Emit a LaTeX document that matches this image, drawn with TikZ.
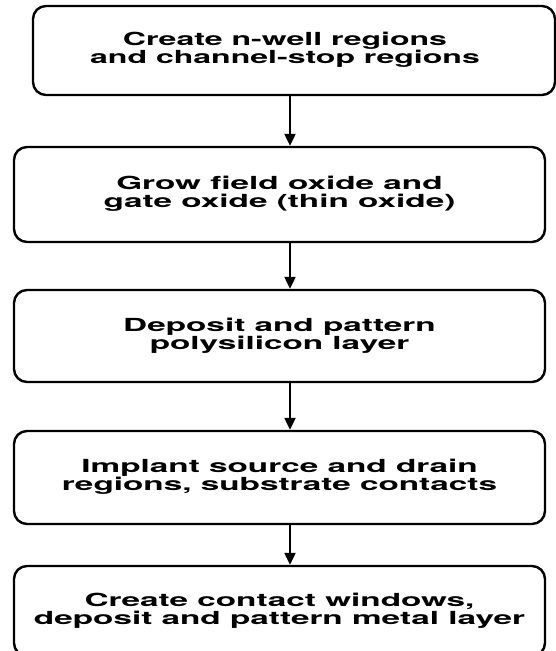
\documentclass[tikz,border=0pt]{standalone}
\usepackage{fontspec}
\setmainfont{TeX Gyre Heros}
\usepackage{graphicx}
\usetikzlibrary{arrows.meta}
\newcommand\widetext[2]{\scalebox{#1}[1]{\fontsize{18}{16.5}\selectfont\bfseries\begin{tabular}{@{}c@{}}#2\end{tabular}}}
\tikzset{
  stepbox/.style={draw=black, line width=2.4pt, rounded corners=13pt, inner sep=0pt, fill=white},
  flowarrow/.style={draw=black, line width=2.2pt, -{Triangle[length=12pt,width=11pt]}}
}
\begin{document}
\begin{tikzpicture}[x=1pt,y=-1pt]
\useasboundingbox[fill=white] (0,0) rectangle (556,651);
\coordinate (ax) at (290,0);
\node[stepbox, minimum width=522pt, minimum height=89pt] (b1) at (294,50.5)
  {\kern-18pt\widetext{1.78}{Create n-well regions\\and channel-stop regions}};
\node[stepbox, minimum width=531pt, minimum height=95pt] (b2) at (279.5,194.5)
  {\widetext{1.85}{Grow field oxide and\\gate oxide (thin oxide)}};
\node[stepbox, minimum width=531pt, minimum height=92pt] (b3) at (279.5,336)
  {\widetext{1.85}{Deposit and pattern\\polysilicon layer}};
\node[stepbox, minimum width=531pt, minimum height=93pt] (b4) at (279.5,477.5)
  {\widetext{1.85}{Implant source and drain\\regions, substrate contacts}};
\node[stepbox, minimum width=531pt, minimum height=90pt] (b5) at (279.5,611)
  {\widetext{1.85}{Create contact windows,\\deposit and pattern metal layer}};
\draw[flowarrow] (b1.south -| ax) -- (b2.north -| ax);
\draw[flowarrow] (b2.south -| ax) -- (b3.north -| ax);
\draw[flowarrow] (b3.south -| ax) -- (b4.north -| ax);
\draw[flowarrow] (b4.south -| ax) -- (b5.north -| ax);
\end{tikzpicture}
\end{document}
